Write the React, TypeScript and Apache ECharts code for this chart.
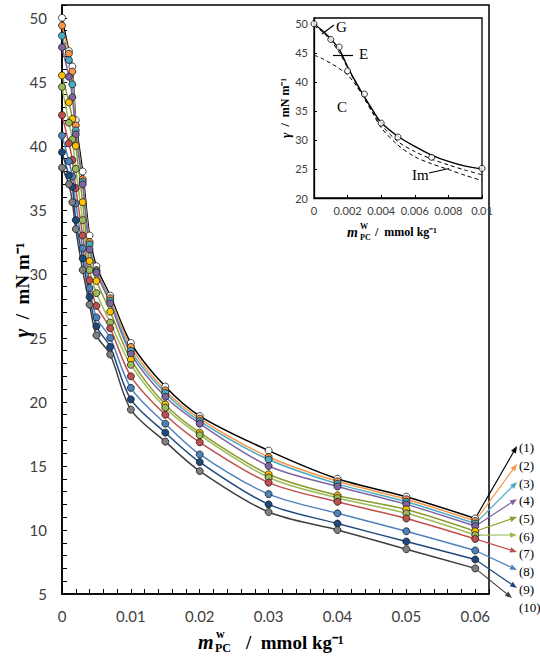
import React, { useEffect, useRef } from "react";
import * as echarts from "echarts";

// ---------- main chart data ----------
const xValues = [0, 0.001, 0.0015, 0.002, 0.003, 0.004, 0.005, 0.007, 0.01, 0.015, 0.02, 0.03, 0.04, 0.05, 0.06];
const s1 = [50.0, 47.4, 46.2, 42.0, 38.0, 33.0, 30.6, 28.3, 24.6, 21.2, 18.9, 16.2, 14.0, 12.6, 10.9];
const s2 = [49.4, 47.2, 45.8, 41.6, 37.4, 32.5, 30.3, 28.1, 24.3, 20.9, 18.7, 15.7, 13.8, 12.4, 10.7];
const s3 = [48.6, 46.7, 44.8, 41.2, 37.2, 32.3, 30.2, 27.9, 24.0, 20.7, 18.5, 15.5, 13.6, 12.2, 10.5];
const s4 = [47.7, 45.4, 43.8, 40.9, 37.0, 31.9, 30.1, 27.7, 23.75, 20.4, 18.3, 15.0, 13.4, 12.0, 10.3];
const s5 = [45.5, 43.4, 42.1, 40.0, 35.6, 31.0, 29.45, 27.05, 23.3, 19.8, 17.6, 14.35, 12.7, 11.6, 9.9];
const s6 = [44.6, 41.8, 40.5, 38.2, 34.2, 30.3, 28.5, 26.2, 22.9, 19.55, 17.4, 14.1, 12.5, 11.3, 9.6];
const s7 = [42.4, 40.2, 38.9, 36.7, 33.0, 29.5, 27.5, 25.75, 22.0, 19.0, 16.85, 13.7, 12.2, 10.9, 9.3];
const s8 = [40.8, 38.8, 37.6, 35.5, 32.0, 28.9, 26.6, 25.0, 21.1, 18.3, 15.9, 12.8, 11.3, 9.9, 8.4];
const s9 = [39.5, 37.7, 36.8, 34.2, 31.2, 28.2, 25.9, 24.3, 20.2, 17.6, 15.3, 12.0, 10.5, 9.1, 7.7];
const s10 = [38.3, 37.0, 35.6, 33.5, 30.3, 27.6, 25.2, 23.7, 19.4, 16.9, 14.6, 11.4, 10.0, 8.5, 7.0];
const allSeries = [s1, s2, s3, s4, s5, s6, s7, s8, s9, s10];
const seriesLabels = ["(1)", "(2)", "(3)", "(4)", "(5)", "(6)", "(7)", "(8)", "(9)", "(10)"];

// ---------- inset data ----------
const insetX = [0, 0.001, 0.0015, 0.002, 0.003, 0.004, 0.005, 0.007, 0.01];
const insetPoints = [50.0, 47.3, 46.0, 41.9, 37.9, 32.9, 30.5, 27.0, 25.1];
const curveX = [0, 0.0005, 0.001, 0.0015, 0.002, 0.0025, 0.003, 0.0035, 0.004, 0.005, 0.006, 0.007, 0.008, 0.009, 0.01];
const curveE = [50.0, 48.8, 47.4, 45.6, 42.6, 39.9, 37.4, 35.1, 33.0, 30.6, 28.9, 27.4, 26.3, 25.5, 25.0];
const curveG = [49.7, 48.6, 47.1, 45.1, 42.4, 39.7, 37.1, 34.7, 32.6, 29.7, 28.0, 26.7, 25.7, 24.8, 24.0];
const curveC = [44.6, 44.0, 43.2, 42.3, 41.2, 39.4, 37.2, 34.6, 32.1, 29.1, 27.1, 25.9, 24.9, 23.9, 23.0];

// ---------- styles ----------
const lineColors = ["#000000", "#F79646", "#4BACC6", "#8064A2", "#8C9A2E", "#9BBB59", "#C0504D", "#4F81BD", "#1F497D", "#404040"];
const markerColors = ["#FFFFFF", "#F79646", "#4BACC6", "#8064A2", "#FFC000", "#9BBB59", "#C0504D", "#4F81BD", "#1F497D", "#7F7F7F"];
const SANS = "Lato";
const SERIF = "Liberation Serif";
const labelYs = [447, 465, 483, 500, 518, 536, 553, 571, 589, 607];

const zip = (xs: number[], ys: number[]) => xs.map((x, i) => [x, ys[i]]);

const fmtMainX = (v: number) => {
  const k = Math.round(v * 100);
  if (Math.abs(v * 100 - k) > 1e-6) return "";
  return k === 0 ? "0" : (k / 100).toFixed(2);
};
const fmtMainY = (v: number) => {
  const k = Math.round(v / 5);
  if (Math.abs(v / 5 - k) > 1e-6) return "";
  return String(k * 5);
};
const fmtInsetX = (v: number) => (v === 0 ? "0" : String(parseFloat(v.toFixed(3))));

function staticGraphics(): any[] {
  const g: any[] = [];
  // main y title
  g.push({
    type: "text", x: 22, y: 290, rotation: Math.PI / 2,
    style: {
      text: "{g|γ}  /  mN m⁻¹", fontSize: 19, fontWeight: "bold", fontFamily: SERIF, fill: "#000",
      align: "center", verticalAlign: "middle",
      rich: { g: { fontSize: 21, fontWeight: "bold", fontStyle: "italic", fontFamily: SERIF } },
    },
  });
  // main x title
  g.push({ type: "text", x: 198, y: 642, style: { text: "m", fontSize: 20, fontWeight: "bold", fontStyle: "italic", fontFamily: SERIF, fill: "#000", align: "left", verticalAlign: "middle" } });
  g.push({ type: "text", x: 216, y: 634, style: { text: "w", fontSize: 12, fontWeight: "bold", fontFamily: SERIF, fill: "#000", align: "left", verticalAlign: "middle" } });
  g.push({ type: "text", x: 215, y: 648, style: { text: "PC", fontSize: 12, fontWeight: "bold", fontFamily: SERIF, fill: "#000", align: "left", verticalAlign: "middle" } });
  g.push({ type: "text", x: 246, y: 642, style: { text: "/  mmol kg⁻¹", fontSize: 19, fontWeight: "bold", fontFamily: SERIF, fill: "#000", align: "left", verticalAlign: "middle" } });

  // inset y title
  g.push({
    type: "text", x: 285, y: 108, rotation: Math.PI / 2,
    style: {
      text: "{g|γ}  /  mN m⁻¹", fontSize: 12, fontWeight: "bold", fontFamily: SERIF, fill: "#000",
      align: "center", verticalAlign: "middle",
      rich: { g: { fontSize: 13, fontWeight: "bold", fontStyle: "italic", fontFamily: SERIF } },
    },
  });
  // inset x title
  g.push({ type: "text", x: 347, y: 232, style: { text: "m", fontSize: 14, fontWeight: "bold", fontStyle: "italic", fontFamily: SERIF, fill: "#000", align: "left", verticalAlign: "middle" } });
  g.push({ type: "text", x: 360, y: 226, style: { text: "W", fontSize: 8, fontWeight: "bold", fontFamily: SERIF, fill: "#000", align: "left", verticalAlign: "middle" } });
  g.push({ type: "text", x: 360, y: 237, style: { text: "PC", fontSize: 8, fontWeight: "bold", fontFamily: SERIF, fill: "#000", align: "left", verticalAlign: "middle" } });
  g.push({ type: "text", x: 375, y: 232, style: { text: "/  mmol kg⁻¹", fontSize: 12, fontWeight: "bold", fontFamily: SERIF, fill: "#000", align: "left", verticalAlign: "middle" } });

  // inset curve labels and pointers
  const lbl = (t: string, x: number, y: number) => ({ type: "text", x, y, z: 10, style: { text: t, fontSize: 15, fontFamily: SERIF, fill: "#000", align: "left", verticalAlign: "middle" } });
  g.push(lbl("G", 336, 27));
  g.push(lbl("E", 359, 54));
  g.push(lbl("C", 337, 107));
  g.push(lbl("Im", 412, 175));
  const ptr = (x1: number, y1: number, x2: number, y2: number) => ({ type: "line", z: 10, shape: { x1, y1, x2, y2 }, style: { stroke: "#000", lineWidth: 1.2 } });
  g.push(ptr(322, 34, 334, 25));
  g.push(ptr(333, 55.5, 353, 55.5));
  g.push(ptr(429, 173, 449, 168.5));

  // right-side series labels
  seriesLabels.forEach((t, i) => {
    g.push({ type: "text", x: 519, y: labelYs[i], style: { text: t, fontSize: 13, fontFamily: SERIF, fill: "#000", align: "left", verticalAlign: "middle" } });
  });
  return g;
}

const option: any = {
  animation: false,
  grid: [
    { left: 62, top: 5, width: 427, height: 589, show: true, borderColor: "#000", borderWidth: 1.5, backgroundColor: "transparent" },
    { left: 314, top: 18, width: 168, height: 180, show: true, borderColor: "#000", borderWidth: 1.3, backgroundColor: "#fff" },
  ],
  xAxis: [
    {
      gridIndex: 0, type: "value", min: 0, max: 0.062, interval: 0.002,
      axisLine: { lineStyle: { color: "#000", width: 1.6 } },
      axisTick: { inside: true, length: 5, lineStyle: { color: "#000", width: 1 } },
      axisLabel: { formatter: fmtMainX, margin: 14, color: "#404040", fontSize: 15, fontFamily: SANS },
      splitLine: { show: false },
    },
    {
      gridIndex: 1, type: "value", min: 0, max: 0.01, interval: 0.002,
      axisLine: { lineStyle: { color: "#000", width: 1.3 } },
      axisTick: { inside: true, length: 3, lineStyle: { color: "#000", width: 1 } },
      axisLabel: { formatter: fmtInsetX, margin: 7, color: "#404040", fontSize: 11, fontFamily: SANS },
      splitLine: { show: false },
    },
  ],
  yAxis: [
    {
      gridIndex: 0, type: "value", min: 5, max: 51, interval: 1,
      axisLine: { lineStyle: { color: "#000", width: 1.6 } },
      axisTick: { inside: true, length: 5, lineStyle: { color: "#000", width: 1 } },
      axisLabel: { formatter: fmtMainY, margin: 15, color: "#404040", fontSize: 15, fontFamily: SANS },
      splitLine: { show: false },
    },
    {
      gridIndex: 1, type: "value", min: 20, max: 51, interval: 5,
      axisLine: { lineStyle: { color: "#000", width: 1.3 } },
      axisTick: { inside: true, length: 3, lineStyle: { color: "#000", width: 1 } },
      axisLabel: { showMaxLabel: false, margin: 6, color: "#404040", fontSize: 11, fontFamily: SANS },
      splitLine: { show: false },
    },
  ],
  series: [
    ...allSeries.map((vals, i) => ({
      type: "line", xAxisIndex: 0, yAxisIndex: 0, silent: true,
      data: zip(xValues, vals),
      smooth: 0.3,
      symbol: "circle", symbolSize: 7, showAllSymbol: true,
      lineStyle: { color: lineColors[i], width: 1.5 },
      itemStyle: { color: markerColors[i], borderColor: "#1a1a1a", borderWidth: 0.8 },
      emphasis: { disabled: true },
      z: 3,
    })),
    {
      type: "line", xAxisIndex: 1, yAxisIndex: 1, silent: true, data: zip(curveX, curveE),
      smooth: 0.3, symbol: "none", lineStyle: { color: "#000", width: 1.4 }, z: 4,
    },
    {
      type: "line", xAxisIndex: 1, yAxisIndex: 1, silent: true, data: zip(curveX, curveG),
      smooth: 0.3, symbol: "none", lineStyle: { color: "#000", width: 1, type: [4, 3] }, z: 4,
    },
    {
      type: "line", xAxisIndex: 1, yAxisIndex: 1, silent: true, data: zip(curveX, curveC),
      smooth: 0.3, symbol: "none", lineStyle: { color: "#000", width: 1, type: [4, 3] }, z: 4,
    },
    {
      type: "scatter", xAxisIndex: 1, yAxisIndex: 1, silent: true, data: zip(insetX, insetPoints),
      symbol: "circle", symbolSize: 6, itemStyle: { color: "#fff", borderColor: "#000", borderWidth: 1 }, z: 5,
    },
  ],
};

export default function App() {
  const ref = useRef<HTMLDivElement>(null);
  useEffect(() => {
    const chart = echarts.init(ref.current!, null, { renderer: "svg" });
    chart.setOption(option);
    const g = staticGraphics();
    const lastX = xValues[xValues.length - 1];
    allSeries.forEach((vals, i) => {
      const p = chart.convertToPixel({ seriesIndex: i }, [lastX, vals[vals.length - 1]]) as number[];
      const tip = i === 9 ? [512, 598] : [517, labelYs[i] - 1];
      const dx = tip[0] - p[0];
      const dy = tip[1] - p[1];
      const len = Math.sqrt(dx * dx + dy * dy) || 1;
      const ux = dx / len, uy = dy / len;
      const bx = tip[0] - ux * 7, by = tip[1] - uy * 7;
      const nx = -uy * 2.8, ny = ux * 2.8;
      g.push({ type: "line", z: 1, shape: { x1: p[0], y1: p[1], x2: bx, y2: by }, style: { stroke: lineColors[i], lineWidth: 1.2 } });
      g.push({ type: "polygon", z: 1, shape: { points: [[tip[0], tip[1]], [bx + nx, by + ny], [bx - nx, by - ny]] }, style: { fill: lineColors[i] } });
    });
    chart.setOption({ graphic: g });
    return () => chart.dispose();
  }, []);
  return <div ref={ref} style={{ position: "absolute", left: 0, top: 0, width: 540, height: 657 }} />;
}
